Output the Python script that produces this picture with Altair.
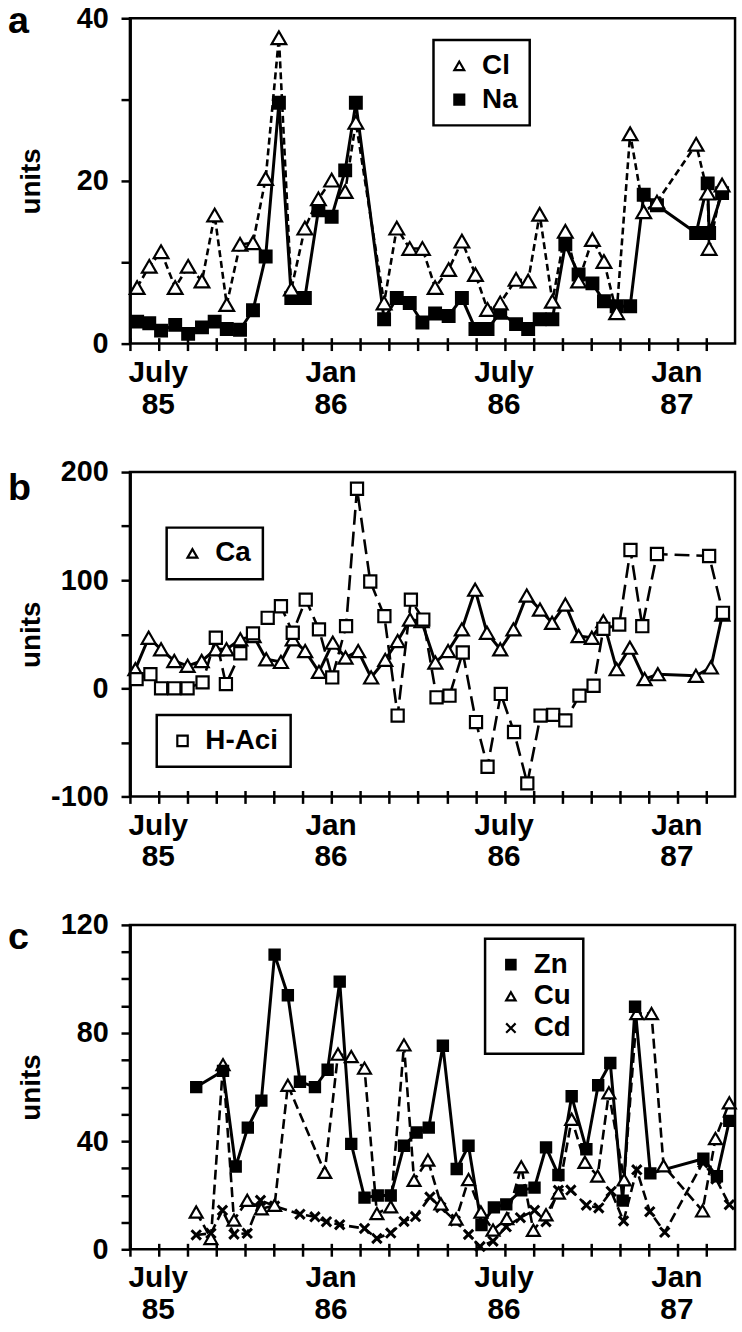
import altair as alt
import pandas as pd

FONT = "Liberation Sans"

# ---------- x axis: months since July 1985 ----------
month_ticks = list(range(0, 21))
month_label_pos = [0, 6, 12, 18]
month_label_top = ["July", "Jan", "July", "Jan"]
month_label_bottom = ["85", "86", "86", "87"]

# ---------- panel a : Cl, Na ----------
a_month = [0.25, 0.67, 1.08, 1.57, 2.02, 2.5, 2.94, 3.36, 3.82, 4.27,
           4.71, 5.17, 5.6, 6.07, 6.54, 7.0, 7.47, 7.84, 8.82, 9.26,
           9.71, 10.15, 10.59, 11.06, 11.52, 11.99, 12.41, 12.85, 13.4, 13.82,
           14.22, 14.66, 15.11, 15.57, 16.05, 16.45, 16.89, 17.36, 17.83, 18.29,
           19.65, 20.05, 20.1, 20.55]
cl = [6.9, 9.5, 11.3, 6.9, 9.5, 7.7, 15.8, 4.8, 12.2, 12.4,
      20.3, 37.6, 6.7, 14.2, 17.8, 20.1, 18.7, 27.2, 5.0, 14.2,
      11.7, 11.7, 6.9, 9.1, 12.6, 8.5, 4.2, 5.0, 7.9, 7.7,
      15.9, 5.2, 13.8, 7.7, 12.8, 10.1, 3.8, 25.8, 16.2, 17.4,
      24.5, 18.5, 11.7, 19.5]
na = [2.7, 2.5, 1.6, 2.3, 1.2, 2.0, 2.7, 1.8, 1.7, 4.1,
      10.7, 29.6, 5.6, 5.6, 16.4, 15.6, 21.3, 29.6, 3.0, 5.6,
      5.0, 2.6, 3.7, 3.4, 5.6, 1.8, 1.8, 3.8, 2.4, 1.8,
      3.0, 3.0, 12.2, 8.5, 7.4, 5.2, 4.6, 4.6, 18.3, 17.0,
      13.6, 19.7, 13.6, 18.5]

# ---------- panel b : Ca, H-Aci ----------
ca_month = [0.19, 0.65, 1.08, 1.54, 2.0, 2.49, 2.98, 3.35, 3.83, 4.29,
            4.73, 5.24, 5.65, 6.08, 6.56, 7.04, 7.48, 7.92, 8.37, 8.86,
            9.29, 9.72, 10.12, 10.6, 11.04, 11.52, 11.98, 12.39, 12.85, 13.31,
            13.77, 14.23, 14.65, 15.11, 15.57, 16.03, 16.43, 16.89, 17.35, 17.86,
            18.32, 19.64, 20.16, 20.56]
ca = [17.7, 46.8, 36.1, 25.3, 20.8, 25.3, 36.1, 36.1, 45.3, 48.3,
      26.9, 24.4, 45.3, 34.5, 15.2, 42.2, 28.5, 34.5, 10.1, 26.3,
      43.7, 63.6, 62.1, 23.9, 34.5, 54.5, 91.2, 51.4, 36.1, 54.5,
      85.8, 72.8, 60.6, 77.4, 48.3, 46.8, 62.1, 17.7, 37.6, 8.5,
      13.1, 11.6, 19.3, 68.2]
hac_month = [0.23, 0.71, 1.08, 1.54, 2.0, 2.52, 2.98, 3.33, 3.83, 4.27,
             4.78, 5.24, 5.65, 6.1, 6.56, 7.02, 7.5, 7.88, 8.34, 8.83,
             9.29, 9.75, 10.18, 10.64, 11.09, 11.55, 12.01, 12.41, 12.87, 13.33,
             13.79, 14.25, 14.69, 15.11, 15.6, 16.09, 16.43, 16.98, 17.37, 17.78,
             18.29, 20.1, 20.58]
hac = [8.5, 13.1, 0, 0, 0, 5.5, 46.8, 3.9, 32.4, 50.8,
       65.2, 75.9, 51.4, 82.0, 54.5, 10.1, 57.5, 184.6, 98.8, 66.7,
       -25.2, 82.0, 63.6, -8.3, -6.8, 33.1, -31.2, -72.5, -5.2, -40.4,
       -87.9, -25.2, -24.5, -29.7, -6.8, 2.4, 55.0, 59.0, 127.9, 57.5,
       124.2, 122.4, 69.8]

# ---------- panel c : Zn, Cu, Cd ----------
zn_month = [2.3, 3.23, 3.67, 4.09, 4.56, 5.02, 5.48, 5.9, 6.42, 6.86,
            7.28, 7.68, 8.14, 8.6, 9.05, 9.51, 9.95, 10.37, 10.86, 11.34,
            11.75, 12.2, 12.63, 13.06, 13.58, 14.04, 14.44, 14.87, 15.33, 15.84,
            16.25, 16.67, 17.1, 17.53, 18.06, 19.9, 20.37, 20.8]
zn = [60, 66, 30.6, 45, 55, 109, 94, 62, 60, 66.4,
      99, 39, 19.1, 19.9, 19.9, 38.3, 43.2, 45, 75.3, 29.7,
      38.3, 9, 15.5, 16.6, 21.8, 22.8, 37.7, 27.5, 56.6, 37,
      60.7, 68.9, 18, 89.7, 28.1, 33.5, 27, 47.5]
cu_month = [2.3, 2.81, 3.23, 3.61, 4.07, 4.56, 5.02, 5.48, 6.76, 7.22,
            7.68, 8.14, 8.57, 9.05, 9.51, 9.86, 10.34, 10.79, 11.32, 11.75,
            12.18, 12.6, 13.08, 13.58, 14.0, 14.44, 14.87, 15.33, 15.79, 16.23,
            16.62, 17.15, 17.59, 18.1, 18.52, 19.87, 20.32, 20.8]
cu = [13.8, 4.0, 68.3, 10.8, 18.1, 15.0, 16.3, 60.7, 28.5, 72.2,
      71.3, 67.0, 13.2, 15.7, 75.6, 25.5, 33.0, 16.8, 11.2, 25.8,
      13.8, 7.1, 11.4, 30.5, 7.0, 12.8, 20.8, 48.1, 32.2, 27.1,
      57.9, 25.7, 87.2, 87.2, 30.9, 14.2, 41, 54.2]
cd_month = [2.3, 2.81, 3.21, 3.61, 4.07, 4.53, 5.02, 5.9, 6.42, 6.82,
            7.28, 8.14, 8.57, 9.05, 9.51, 9.91, 10.41, 10.79, 11.29, 11.75,
            12.15, 12.6, 13.06, 13.55, 14.04, 14.44, 14.87, 15.3, 15.84, 16.27,
            16.7, 17.13, 17.59, 18.04, 18.56, 19.88, 20.34, 20.8]
cd = [5.3, 5.9, 14.4, 5.6, 5.9, 18.1, 16, 13.0, 12.0, 10.2,
      9.1, 7.7, 4.0, 6.0, 10.3, 12.1, 19.3, 15.5, 10.5, 5.5,
      1.0, 3.0, 8.3, 11.7, 14.4, 10.2, 21.8, 21.9, 16.3, 15.3,
      21.4, 10.5, 29.4, 13.9, 6.3, 32, 26, 16.5]

# ---------- helpers ----------
W = 610
XPATH = "M-1,-1L1,1M-1,1L1,-1"


def sdf(months, values, name):
    return pd.DataFrame({"month": months, "value": values, "series": name})


label_expr = " : ".join(
    f"datum.value == {p} ? ['{t}', '{b}']"
    for p, t, b in zip(month_label_pos, month_label_top, month_label_bottom)
) + " : ''"

X = alt.X(
    "month:Q",
    scale=alt.Scale(domain=[0, 21], nice=False, zero=False),
    axis=alt.Axis(values=month_ticks, labelExpr=label_expr, title=None,
                  offset=-6, tickSize=13, labelPadding=7, labelAlign="center",
                  labelOffset=28, labelBaseline="top", labelLineHeight=32,
                  labelFontSize=30,
                  labelOverlap=False, labelFlush=False, domain=False, grid=False),
)


def Y(domain, ticks, major, h):
    return alt.Y(
        "value:Q",
        scale=alt.Scale(domain=domain, nice=False, zero=False),
        axis=alt.Axis(values=ticks,
                      labelExpr=f"datum.value % {major} == 0 ? toString(datum.value) : ''",
                      title="units", titleX=-99, titleY=h / 2, titleAngle=270,
                      titleAlign="center", titleBaseline="middle", titleFontSize=28,
                      tickSize=9, labelPadding=13, labelFontSize=29,
                      domain=True, domainWidth=3,
                      grid=False, labelOverlap=False),
    )


def line(df, y, dash=None, width=3.0):
    kw = dict(color="black", strokeWidth=width)
    if dash:
        kw["strokeDash"] = dash
    return alt.Chart(df).mark_line(**kw).encode(x=X, y=y)


def letter(t, ybase):
    return alt.Chart(alt.Data(values=[{"t": t}])).mark_text(
        align="left", baseline="alphabetic", fontSize=38, fontWeight="bold",
        font=FONT, color="black"
    ).encode(x=alt.value(-123), y=alt.value(ybase), text="t:N")


def leg(x, y, rp=6, **kw):
    return alt.Legend(orient="none", legendX=x, legendY=y, title=None,
                      strokeColor="black", padding=12, labelFont=FONT,
                      labelFontSize=28, labelFontWeight="bold", labelColor="black",
                      symbolStrokeColor="black", symbolStrokeWidth=2.2,
                      labelOffset=9, rowPadding=rp, **kw)


def encs(y, names, shapes, fills, legend):
    return dict(
        x=X, y=y,
        shape=alt.Shape("series:N", scale=alt.Scale(domain=names, range=shapes), legend=legend),
        fill=alt.Fill("series:N", scale=alt.Scale(domain=names, range=fills), legend=legend),
        stroke=alt.Stroke("series:N", scale=alt.Scale(domain=names, range=["black"] * len(names)),
                          legend=legend),
    )


# ---------- panel a ----------
HA = 328
dcl = sdf(a_month, cl, "Cl")
dna = sdf(a_month, na, "Na")
ya = Y([0, 40], [0, 10, 20, 30, 40], 20, HA)
la = leg(306, 22, symbolSize=100)
a_names = ["Cl", "Na"]
a_shapes = ["triangle-up", "square"]
a_fills = ["white", "black"]


def pts_a(df, size):
    return alt.Chart(df).mark_point(filled=True, size=size, strokeWidth=2.2, opacity=1).encode(
        **encs(ya, a_names, a_shapes, a_fills, la))


pa = alt.layer(
    line(dna, ya, None, 3),
    line(dcl, ya, [7, 4], 2.6),
    pts_a(dna, 140),
    pts_a(dcl, 220),
    letter("a", 15),
).properties(width=W, height=HA)

# ---------- panel b ----------
HB = 327
dca = sdf(ca_month, ca, "Ca")
dha = sdf(hac_month, hac, "H-Aci")
yb = Y([-100, 200], [-100, -50, 0, 50, 100, 150, 200], 100, HB)

pts_ca = alt.Chart(dca).mark_point(filled=True, size=200, strokeWidth=2.2, opacity=1).encode(
    **encs(yb, ["Ca"], ["triangle-up"], ["white"], leg(37, 56, symbolSize=100)))
pts_ha = alt.Chart(dha).mark_point(filled=True, size=150, strokeWidth=2.2, opacity=1).encode(
    **encs(yb, ["H-Aci"], ["square"], ["white"], leg(27, 245, symbolSize=110)))

pb = alt.layer(
    line(dca, yb, None, 3),
    line(dha, yb, [15, 7], 2.6),
    pts_ca,
    pts_ha,
    letter("b", 28),
).resolve_scale(shape="independent", fill="independent", stroke="independent"
                ).properties(width=W, height=HB)

# ---------- panel c ----------
HC = 327
dzn = sdf(zn_month, zn, "Zn")
dcu = sdf(cu_month, cu, "Cu")
dcd = sdf(cd_month, cd, "Cd")
yc = Y([0, 120], list(range(0, 121, 10)), 40, HC)
lc = leg(358, 14, rp=4, symbolSize=90)
c_names = ["Zn", "Cu", "Cd"]
c_shapes = ["square", "triangle-up", XPATH]
c_fills = ["black", "white", "black"]


def pts_c(df, size, sw):
    return alt.Chart(df).mark_point(filled=True, size=size, strokeWidth=sw, opacity=1).encode(
        **encs(yc, c_names, c_shapes, c_fills, lc))


pc = alt.layer(
    line(dcd, yc, [10, 5], 2.6),
    line(dcu, yc, [10, 5], 2.6),
    line(dzn, yc, None, 3),
    pts_c(dcd, 90, 3),
    pts_c(dcu, 170, 2.2),
    pts_c(dzn, 110, 2),
    letter("c", 24),
).properties(width=W, height=HC)

chart = alt.vconcat(pa, pb, pc, spacing=129.5, bounds="flush").resolve_scale(
    shape="independent", fill="independent", stroke="independent"
).configure_view(
    stroke="black", strokeWidth=2.5
).configure_axis(
    labelFont=FONT, labelFontSize=27, labelFontWeight="bold", labelColor="black",
    titleFont=FONT, titleFontSize=27, titleFontWeight="bold", titleColor="black",
    tickColor="black", tickWidth=2.5, domainColor="black"
).configure_legend(
    strokeWidth=2.5
).properties(padding={"left": 6, "top": -4, "right": 0, "bottom": 0})

chart.save("out.html", embed_options={"renderer": "svg", "actions": False})
